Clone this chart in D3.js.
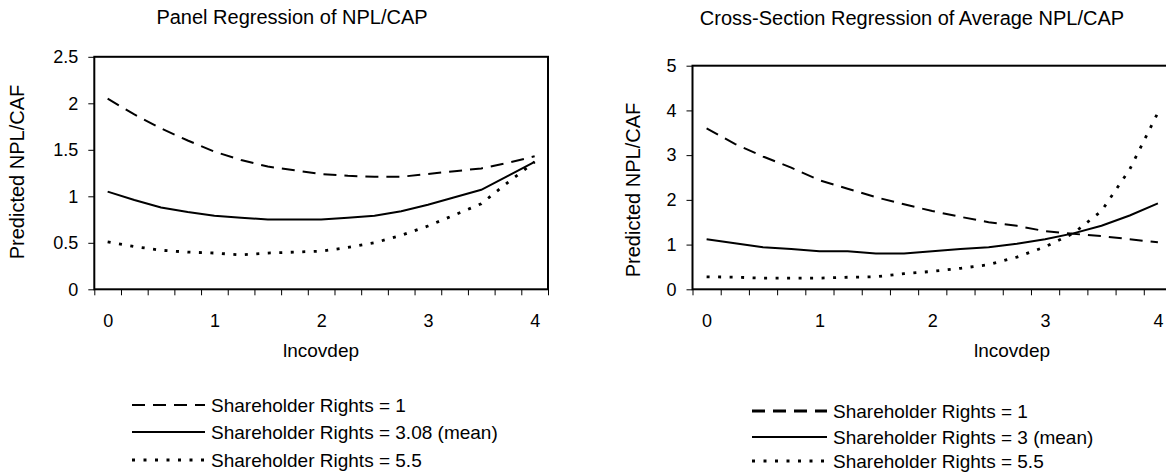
<!DOCTYPE html>
<html><head><meta charset="utf-8">
<script src="https://cdn.jsdelivr.net/npm/d3@7"></script>
<style>
body{margin:0;background:#fff;}
text{font-family:"Liberation Sans",Arial,sans-serif;fill:#000;}
</style></head>
<body><svg id="c" width="1166" height="476"></svg>
<script>
// ---- data ----
const xValues = [0,0.25,0.5,0.75,1,1.25,1.5,1.75,2,2.25,2.5,2.75,3,3.25,3.5,3.75,4];
const xTickLabels = [0,1,2,3,4];

const panelSR1   = [2.05,1.88,1.73,1.60,1.48,1.39,1.32,1.28,1.24,1.22,1.21,1.21,1.24,1.27,1.30,1.36,1.43];
const panelSR308 = [1.05,0.96,0.88,0.83,0.79,0.77,0.75,0.75,0.75,0.77,0.79,0.84,0.91,0.99,1.07,1.22,1.37];
const panelSR55  = [0.51,0.46,0.42,0.40,0.39,0.37,0.39,0.40,0.41,0.45,0.50,0.58,0.68,0.80,0.92,1.15,1.37];
const panelYTicks = [0,0.5,1,1.5,2,2.5];

const crossSR1  = [3.60,3.25,2.97,2.72,2.44,2.25,2.06,1.90,1.75,1.62,1.50,1.42,1.30,1.24,1.19,1.12,1.05];
const crossSR3  = [1.12,1.03,0.94,0.90,0.85,0.85,0.80,0.80,0.85,0.90,0.94,1.02,1.12,1.25,1.42,1.65,1.92];
const crossSR55 = [0.28,0.27,0.25,0.25,0.25,0.27,0.28,0.35,0.40,0.47,0.55,0.72,0.95,1.25,1.75,2.68,3.95];
const crossYTicks = [0,1,2,3,4,5];

const panelLegend = ["Shareholder Rights = 1","Shareholder Rights = 3.08 (mean)","Shareholder Rights = 5.5"];
const crossLegend = ["Shareholder Rights = 1","Shareholder Rights = 3 (mean)","Shareholder Rights = 5.5"];

const styles = [
  {dash:"13,8", w:2},
  {dash:null, w:2},
  {dash:"3,8.5", w:2.8}
];

const svg = d3.select("#c");

function panel(cfg){
  const g = svg.append("g");
  const x = d3.scaleLinear().domain([-0.125,4.125]).range([cfg.x0,cfg.x1]);
  const y = d3.scaleLinear().domain([0,cfg.ymax]).range([cfg.yb,cfg.yt]);
  g.append("rect").attr("x",cfg.x0).attr("y",cfg.yt)
    .attr("width",cfg.x1-cfg.x0).attr("height",cfg.yb-cfg.yt)
    .attr("fill","none").attr("stroke","#000").attr("stroke-width",2);
  const ya = g.append("g").attr("transform",`translate(${cfg.x0},0)`)
    .call(d3.axisLeft(y).tickValues(cfg.yticks).tickSize(6).tickPadding(10).tickFormat(d=>String(d)));
  ya.select(".domain").remove();
  ya.selectAll("line").attr("stroke","#000");
  ya.selectAll("text").style("font-size","18px").attr("fill","#000");
  const bounds = xValues.map(v=>v-0.125).concat([4.125]);
  const xa = g.append("g").attr("transform",`translate(0,${cfg.yb})`)
    .call(d3.axisBottom(x).tickValues(bounds).tickSize(6).tickFormat(""));
  xa.select(".domain").remove();
  xa.selectAll("line").attr("stroke","#000");
  const xl = g.append("g").attr("transform",`translate(0,${cfg.yb})`)
    .call(d3.axisBottom(x).tickValues(xTickLabels).tickSize(0).tickPadding(25).tickFormat(d=>String(d)));
  xl.select(".domain").remove();
  xl.selectAll("text").style("font-size","18px").attr("fill","#000");
  const line = d3.line().x((d,i)=>x(xValues[i])).y(d=>y(d));
  cfg.series.forEach((s,i)=>{
    g.append("path").datum(s).attr("d",line).attr("fill","none")
      .attr("stroke","#000").attr("stroke-width",styles[i].w)
      .attr("stroke-dasharray",styles[i].dash);
  });
  g.append("text").attr("x",cfg.tx).attr("y",cfg.ty).attr("text-anchor","middle")
    .style("font-size","20px").text(cfg.title);
  g.append("text").attr("transform",`translate(${cfg.ylx},${cfg.yly}) rotate(-90)`)
    .attr("text-anchor","middle").attr("dy","0.35em").style("font-size","20px").text("Predicted NPL/CAF");
  g.append("text").attr("x",cfg.xlx).attr("y",cfg.xly).attr("text-anchor","middle")
    .style("font-size","19px").text("lncovdep");
  cfg.legend.forEach((t,i)=>{
    const yy = cfg.legY[i];
    g.append("line").attr("x1",cfg.lx0).attr("x2",cfg.lx1).attr("y1",yy).attr("y2",yy)
      .attr("stroke","#000").attr("stroke-width",i===0?cfg.legDashW:styles[i].w)
      .attr("stroke-dasharray",styles[i].dash);
    g.append("text").attr("x",cfg.lx1+6).attr("y",yy).attr("dy","0.35em")
      .style("font-size","19px").text(t);
  });
}

panel({x0:94.3,x1:548,yt:56.8,yb:289.3,ymax:2.5,yticks:panelYTicks,
  series:[panelSR1,panelSR308,panelSR55],title:"Panel Regression of NPL/CAP",tx:292,ty:24,
  ylx:17,yly:172,xlx:321,xly:357,legend:panelLegend,lx0:132,lx1:205,legY:[405,432,460],legDashW:2});
panel({x0:692.5,x1:1172,yt:65.7,yb:289.3,ymax:5,yticks:crossYTicks,
  series:[crossSR1,crossSR3,crossSR55],title:"Cross-Section Regression of Average NPL/CAP",tx:912,ty:25,
  ylx:633,yly:190,xlx:1012,xly:357,legend:crossLegend,lx0:752,lx1:827,legY:[411,437,461],legDashW:3});
</script></body></html>
